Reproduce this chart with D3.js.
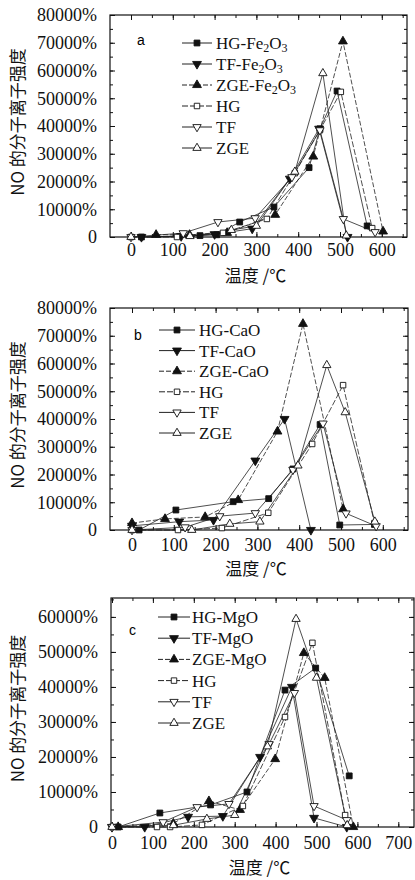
<!DOCTYPE html>
<html>
<head>
<meta charset="utf-8">
<script src="https://cdn.jsdelivr.net/npm/d3@7"></script>
<style>
    body { margin: 0; background: #fff; }
    svg { display: block; }
    .domain { display: none; }
    .tick line { stroke: #111; stroke-width: 1; }
</style>
</head>
<body>
<script>
(function(window) {
    'use strict';

    var SERIF = '"Liberation Serif", "Times New Roman", "DejaVu Serif", serif';
    var CJK = '"Noto Sans CJK SC", sans-serif';

    /******************************************************************
        data: [temperature, intensity %]
     ******************************************************************/
    var xTicksAB = [0, 100, 200, 300, 400, 500, 600];
    var xTicksC = [0, 100, 200, 300, 400, 500, 600, 700];
    var yTicksAB = [0, 10000, 20000, 30000, 40000, 50000, 60000, 70000, 80000];
    var yTicksC = [0, 10000, 20000, 30000, 40000, 50000, 60000];

    var namesA = ['HG-Fe2O3', 'TF-Fe2O3', 'ZGE-Fe2O3', 'HG', 'TF', 'ZGE'];
    var namesB = ['HG-CaO', 'TF-CaO', 'ZGE-CaO', 'HG', 'TF', 'ZGE'];
    var namesC = ['HG-MgO', 'TF-MgO', 'ZGE-MgO', 'HG', 'TF', 'ZGE'];

    // panel a
    var hgFe = [[25,0],[165,500],[205,800],[260,5400],[342,10800],[426,25000],[452,39000],[493,52600],[565,4000]];
    var tfFe = [[25,0],[120,300],[200,1000],[290,3000],[380,21000],[450,39000],[518,0]];
    var zgeFe = [[60,800],[140,800],[230,1500],[345,8000],[436,29000],[507,70500],[603,2000]];
    var hgA = [[0,0],[110,0],[220,1500],[325,6500],[392,23000],[452,38500],[502,52300],[577,3200]];
    var tfA = [[0,0],[125,1400],[208,5400],[297,6800],[385,21600],[452,38500],[508,6500],[584,1800]];
    var zgeA = [[0,0],[141,300],[240,2500],[300,4000],[392,23500],[459,59000],[515,500]];

    // panel b
    var hgCa = [[17,0],[105,7200],[242,10200],[327,11300],[385,22000],[450,38000],[497,1800],[580,2000]];
    var tfCa = [[0,1500],[113,3000],[195,3600],[295,25000],[365,40000],[428,0]];
    var zgeCa = [[0,2500],[79,4000],[175,4700],[254,10800],[348,35500],[409,74300],[505,7500]];
    var hgB = [[0,0],[110,0],[215,700],[326,6200],[431,31000],[505,52200],[580,2500]];
    var tfB = [[0,0],[127,1000],[210,5000],[295,6100],[385,21700],[457,38400],[512,6000],[584,1400]];
    var zgeB = [[0,0],[143,0],[234,2200],[306,3000],[397,23200],[466,59400],[510,42400],[581,3000]];

    // panel c
    var hgMg = [[15,0],[117,4000],[241,6300],[330,10000],[423,39100],[498,45400],[580,14600]];
    var tfMg = [[0,0],[80,0],[186,2900],[271,3100],[362,20000],[440,40000],[494,2600],[574,0]];
    var zgeMg = [[15,0],[150,1000],[237,7400],[313,4900],[399,19400],[469,49700],[520,42600],[590,0]];
    var hgC = [[0,0],[110,0],[142,0],[220,600],[320,6000],[423,31400],[490,52600],[570,3400]];
    var tfC = [[0,0],[125,1400],[208,5700],[286,6600],[384,23700],[446,38300],[494,6000],[574,2000]];
    var zgeC = [[0,0],[150,500],[232,2300],[300,3400],[380,23000],[450,59400],[500,42600],[575,500]];

    /******************************************************************
        marker / line styles, same order in every panel
     ******************************************************************/
    var styles = [
        { sym: 'square', fill: '#111', dash: null },
        { sym: 'down',   fill: '#111', dash: null },
        { sym: 'up',     fill: '#111', dash: '5,2' },
        { sym: 'square', fill: '#fff', dash: '6,2' },
        { sym: 'down',   fill: '#fff', dash: null },
        { sym: 'up',     fill: '#fff', dash: null }
    ];

    var panels = [
        { tag: 'a', names: namesA, data: [hgFe, tfFe, zgeFe, hgA, tfA, zgeA],
          left: 110, right: 407, top: 15, bottom: 237,
          x0: 131, xpx: 0.418, ymax: 80000, xTicks: xTicksAB, yTicks: yTicksAB,
          xpad: 6, titleY: 282, tagPos: [137, 45],
          leg: { x1: 182, x2: 212, tx: 216, y0: 43, dy: 21 } },
        { tag: 'b', names: namesB, data: [hgCa, tfCa, zgeCa, hgB, tfB, zgeB],
          left: 110, right: 408, top: 308, bottom: 530,
          x0: 132, xpx: 0.418, ymax: 80000, xTicks: xTicksAB, yTicks: yTicksAB,
          xpad: 8, titleY: 575, tagPos: [134, 340],
          leg: { x1: 159, x2: 195, tx: 199, y0: 330, dy: 20.6 } },
        { tag: 'c', names: namesC, data: [hgMg, tfMg, zgeMg, hgC, tfC, zgeC],
          left: 111, right: 414, top: 598, bottom: 827,
          x0: 112, xpx: 0.409, ymax: 65400, xTicks: xTicksC, yTicks: yTicksC,
          xpad: 9, titleY: 874, tagPos: [129, 635],
          leg: { x1: 158, x2: 190, tx: 192, y0: 617, dy: 21.2 } }
    ];

    var svg = d3.select('body').append('svg')
        .attr('width', 415)
        .attr('height', 880);

    function symbolPath(s, size) {
        if (s === 'square') return d3.symbol(d3.symbolSquare, size)();
        return d3.symbol(d3.symbolTriangle, size)();
    }

    function drawMarker(g, st, cx, cy) {
        g.append('path')
            .attr('d', symbolPath(st.sym, st.fill === '#fff' ? 30 : 34))
            .attr('transform', 'translate(' + [cx, cy] + ')' + (st.sym === 'down' ? ' rotate(180)' : ''))
            .attr('fill', st.fill)
            .attr('stroke', '#111')
            .attr('stroke-width', 0.9);
    }

    function labelText(sel, name) {
        // digits become subscripts (Fe2O3)
        var down = false;
        name.split(/(\d)/).forEach(function(part) {
            if (!part) return;
            var t = sel.append('tspan').text(part);
            if (/\d/.test(part)) {
                t.attr('dy', 3).style('font-size', '12px');
                down = true;
            } else if (down) {
                t.attr('dy', -3);
                down = false;
            }
        });
    }

    /******************************************************************
        draw one panel
     ******************************************************************/
    function drawPanel(p) {
        var x = d3.scaleLinear()
            .domain([(p.left - p.x0) / p.xpx, (p.right - p.x0) / p.xpx])
            .range([p.left, p.right]);
        var y = d3.scaleLinear()
            .domain([0, p.ymax])
            .range([p.bottom, p.top]);

        var g = svg.append('g');
        var xMinor = d3.range(0, x.domain()[1], 50);
        var yMinor = d3.range(0, p.ymax, 5000);

        // minor ticks, all four sides
        g.append('g').attr('transform', 'translate(0,' + p.bottom + ')')
            .call(d3.axisBottom(x).tickValues(xMinor).tickSize(-3).tickFormat(''));
        g.append('g').attr('transform', 'translate(0,' + p.top + ')')
            .call(d3.axisTop(x).tickValues(xMinor).tickSize(-3).tickFormat(''));
        g.append('g').attr('transform', 'translate(' + p.left + ',0)')
            .call(d3.axisLeft(y).tickValues(yMinor).tickSize(-3).tickFormat(''));
        g.append('g').attr('transform', 'translate(' + p.right + ',0)')
            .call(d3.axisRight(y).tickValues(yMinor).tickSize(-3).tickFormat(''));

        // major ticks
        var xa = g.append('g').attr('transform', 'translate(0,' + p.bottom + ')')
            .call(d3.axisBottom(x).tickValues(p.xTicks).tickSize(-5).tickPadding(p.xpad));
        g.append('g').attr('transform', 'translate(0,' + p.top + ')')
            .call(d3.axisTop(x).tickValues(p.xTicks).tickSize(-5).tickFormat(''));
        var ya = g.append('g').attr('transform', 'translate(' + p.left + ',0)')
            .call(d3.axisLeft(y).tickValues(p.yTicks).tickSize(-5).tickPadding(13)
                .tickFormat(function(d) { return d === 0 ? '0' : d + '%'; }));
        g.append('g').attr('transform', 'translate(' + p.right + ',0)')
            .call(d3.axisRight(y).tickValues(p.yTicks).tickSize(-5).tickFormat(''));

        [xa, ya].forEach(function(a) {
            a.attr('font-family', null).attr('font-size', null)
                .selectAll('text')
                    .style('font-family', SERIF)
                    .style('font-size', '18px')
                    .attr('fill', '#111');
        });

        // frame
        g.append('rect')
            .attr('x', p.left).attr('y', p.top)
            .attr('width', p.right - p.left).attr('height', p.bottom - p.top)
            .attr('fill', 'none').attr('stroke', '#111').attr('stroke-width', 1.2);

        // titles
        g.append('text')
            .style('font-family', CJK).style('font-size', '17px').attr('fill', '#111')
            .attr('x', (p.left + p.right) / 2 - 3).attr('y', p.titleY)
            .attr('text-anchor', 'middle')
            .text('温度 /℃');
        g.append('text')
            .style('font-family', CJK).style('font-size', '17px').attr('fill', '#111')
            .attr('transform', 'translate(' + [24, (p.top + p.bottom) / 2 - 4] + ') rotate(-90)')
            .attr('text-anchor', 'middle')
            .text('NO 的分子离子强度');
        g.append('text')
            .style('font-family', '"Liberation Sans", Arial, sans-serif').style('font-size', '14px')
            .attr('x', p.tagPos[0]).attr('y', p.tagPos[1])
            .text(p.tag);

        // series
        var line = d3.line()
            .x(function(d) { return x(d[0]); })
            .y(function(d) { return y(d[1]); });

        p.data.forEach(function(s, i) {
            var st = styles[i];
            g.append('path')
                .datum(s)
                .attr('d', line)
                .attr('fill', 'none')
                .attr('stroke', '#222')
                .attr('stroke-width', 0.8)
                .attr('stroke-dasharray', st.dash);
        });
        p.data.forEach(function(s, i) {
            s.forEach(function(d) { drawMarker(g, styles[i], x(d[0]), y(d[1])); });
        });

        // legend
        p.names.forEach(function(name, i) {
            var st = styles[i], ly = p.leg.y0 + i * p.leg.dy;
            g.append('line')
                .attr('x1', p.leg.x1).attr('x2', p.leg.x2)
                .attr('y1', ly).attr('y2', ly)
                .attr('stroke', '#222').attr('stroke-width', 1)
                .attr('stroke-dasharray', st.dash);
            drawMarker(g, st, (p.leg.x1 + p.leg.x2) / 2, ly);
            labelText(g.append('text')
                .style('font-family', SERIF).style('font-size', '17px').attr('fill', '#111')
                .attr('x', p.leg.tx).attr('y', ly + 6), name);
        });
    }

    panels.forEach(drawPanel);

})(window);
</script>
</body>
</html>
